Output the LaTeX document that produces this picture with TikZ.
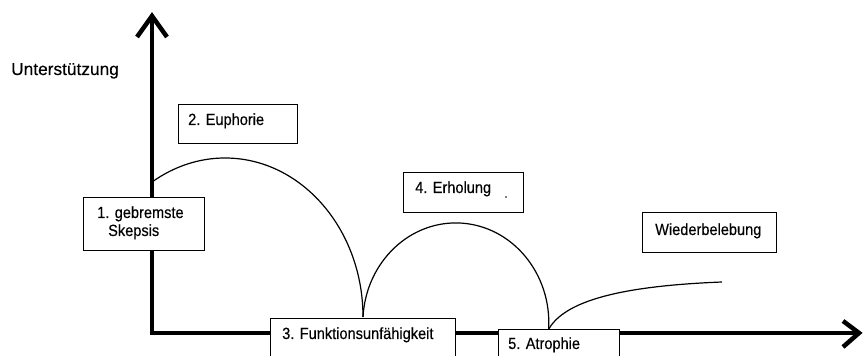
\documentclass[tikz,border=0pt]{standalone}
\usepackage{fontspec}
\setmainfont{Liberation Sans}
\newfontfamily\boxfont[FakeStretch=0.9,FakeBold=0.3]{Liberation Sans}
\newfontfamily\axisfont[FakeBold=0.3]{Liberation Sans}
\begin{document}
\begin{tikzpicture}[x=1pt,y=1pt,
  axisline/.style={line width=4.5pt,line join=miter,line cap=butt},
  curveline/.style={line width=1.2pt},
  labelbox/.style={draw,line width=1.1pt,fill=white,anchor=south west,inner sep=0pt},
  boxtext/.style={anchor=base west,inner sep=0pt,font=\boxfont\fontsize{16.2}{19}\selectfont},
  axistext/.style={anchor=base west,inner sep=0pt,font=\axisfont\fontsize{17.3}{20}\selectfont}]
\useasboundingbox (0,0) rectangle (863,356);
\clip (0,0) rectangle (863,356);
% axes
\coordinate (origin) at (152,23);
\coordinate (ytop) at (152,340);
\coordinate (xend) at (859,23);
\draw[axisline] (ytop) -- (origin) -- (xend);
\draw[axisline] (137,319) -- (ytop) -- (167,319);
\draw[axisline] (843,35) -- (xend) -- (843,9);
% curves
\coordinate (cusp) at (363,39);
\coordinate (junction) at (548.8,27);
\coordinate (revival) at (722,74);
\draw[curveline] (cusp) arc[start angle=0,end angle=122,x radius=138pt,y radius=159pt];
\draw[curveline] (cusp) arc[start angle=176.6,end angle=-3.4,x radius=93pt,y radius=100pt];
\draw[curveline] (junction) .. controls (565,55) and (620,70) .. (revival);
% boxes
\node[labelbox,minimum width=121pt,minimum height=53pt] (b1) at (83,105) {};
\node[labelbox,minimum width=119pt,minimum height=39pt] (b2) at (178,212) {};
\node[labelbox,minimum width=185pt,minimum height=57pt] (b3) at (270,-20) {};
\node[labelbox,minimum width=120pt,minimum height=40pt] (b4) at (403,143) {};
\node[labelbox,minimum width=121pt,minimum height=46pt] (b5) at (498,-20) {};
\node[labelbox,minimum width=134pt,minimum height=40pt] (b6) at (642,103) {};
% texts
\node[axistext] (ylabel) at (11,281) {Unterstützung};
\node[boxtext] (t1a) at (97,138) {1. gebremste};
\node[boxtext] (t1b) at (108,120) {Skepsis};
\node[boxtext] (t2) at (188,231) {2. Euphorie};
\node[boxtext] (t3) at (282,17) {3. Funktionsunfähigkeit};
\node[boxtext] (t4) at (415,163) {4. Erholung};
\node[boxtext] (t5) at (508,7) {5. Atrophie};
\node[boxtext] (t6) at (655,121) {Wiederbelebung};
\fill (506,159) circle[radius=0.8pt];
\end{tikzpicture}
\end{document}
